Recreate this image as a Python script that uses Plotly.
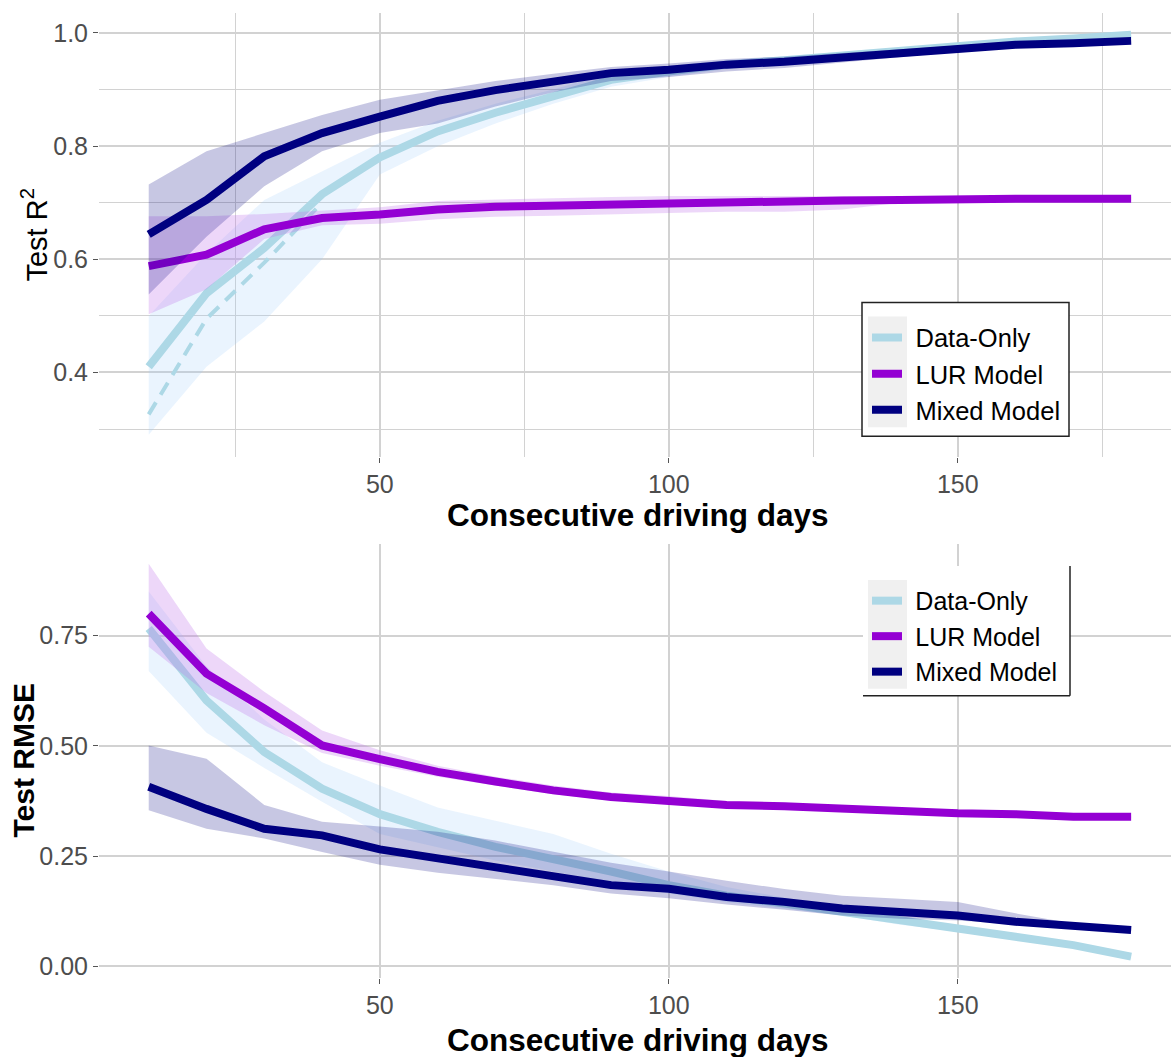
import plotly.graph_objects as go

W, H = 1171, 1057

days = [10, 20, 30, 40, 50, 60, 70, 80, 90, 100, 110, 120, 130, 140, 150, 160, 170, 180]
series_names = ["Data-Only", "LUR Model", "Mixed Model"]

# ---- Test R^2 (top panel) ----
r2_data = [0.41, 0.54, 0.62, 0.715, 0.78, 0.826, 0.859, 0.888, 0.917, 0.932, 0.944, 0.952, 0.961, 0.969, 0.977, 0.985, 0.990, 0.997]
r2_data_lo = [0.29, 0.41, 0.49, 0.60, 0.75, 0.80, 0.84, 0.875, 0.905, 0.922, 0.936, 0.945, 0.955, 0.964, 0.972, 0.981, 0.987, 0.994]
r2_data_hi = [0.50, 0.61, 0.705, 0.755, 0.806, 0.845, 0.875, 0.90, 0.93, 0.942, 0.952, 0.959, 0.967, 0.974, 0.982, 0.989, 0.993, 1.0]
r2_data_alt_days = [10, 20, 30, 40]
r2_data_alt = [0.326, 0.495, 0.594, 0.70]

r2_lur = [0.588, 0.608, 0.653, 0.673, 0.679, 0.688, 0.693, 0.695, 0.698, 0.701, 0.702, 0.702, 0.704, 0.705, 0.707, 0.707, 0.707, 0.707]
r2_lur_lo = [0.503, 0.547, 0.636, 0.660, 0.663, 0.671, 0.675, 0.677, 0.679, 0.682, 0.684, 0.684, 0.688, 0.700, 0.703, 0.704, 0.704, 0.704]
r2_lur_hi = [0.676, 0.676, 0.680, 0.686, 0.692, 0.703, 0.706, 0.708, 0.710, 0.712, 0.712, 0.712, 0.712, 0.710, 0.710, 0.710, 0.710, 0.710]

r2_mix = [0.644, 0.705, 0.782, 0.823, 0.852, 0.880, 0.899, 0.914, 0.929, 0.935, 0.944, 0.949, 0.957, 0.965, 0.973, 0.979, 0.982, 0.986]
r2_mix_lo = [0.538, 0.640, 0.729, 0.791, 0.823, 0.840, 0.870, 0.895, 0.915, 0.922, 0.932, 0.938, 0.948, 0.958, 0.967, 0.975, 0.979, 0.983]
r2_mix_hi = [0.732, 0.791, 0.823, 0.855, 0.882, 0.899, 0.915, 0.928, 0.940, 0.946, 0.954, 0.958, 0.965, 0.972, 0.978, 0.983, 0.985, 0.989]

# ---- Test RMSE (bottom panel) ----
rmse_data = [0.766, 0.603, 0.486, 0.403, 0.345, 0.305, 0.271, 0.244, 0.215, 0.184, 0.160, 0.142, 0.123, 0.101, 0.086, 0.067, 0.048, 0.022]
rmse_data_lo = [0.67, 0.53, 0.45, 0.373, 0.30, 0.27, 0.24, 0.215, 0.19, 0.165, 0.145, 0.13, 0.115, 0.094, 0.079, 0.060, 0.041, 0.016]
rmse_data_hi = [0.85, 0.68, 0.56, 0.463, 0.41, 0.36, 0.33, 0.30, 0.255, 0.215, 0.18, 0.155, 0.131, 0.108, 0.093, 0.074, 0.055, 0.028]

rmse_lur = [0.800, 0.664, 0.585, 0.501, 0.470, 0.441, 0.419, 0.399, 0.384, 0.376, 0.366, 0.363, 0.357, 0.352, 0.347, 0.345, 0.339, 0.339]
rmse_lur_lo = [0.725, 0.620, 0.547, 0.484, 0.455, 0.430, 0.410, 0.390, 0.376, 0.368, 0.359, 0.357, 0.352, 0.348, 0.344, 0.342, 0.336, 0.336]
rmse_lur_hi = [0.913, 0.721, 0.623, 0.535, 0.490, 0.455, 0.430, 0.410, 0.394, 0.386, 0.375, 0.371, 0.363, 0.356, 0.350, 0.348, 0.342, 0.342]

rmse_mix = [0.407, 0.357, 0.312, 0.297, 0.265, 0.245, 0.223, 0.203, 0.184, 0.176, 0.157, 0.146, 0.131, 0.123, 0.115, 0.101, 0.090, 0.082]
rmse_mix_lo = [0.354, 0.312, 0.290, 0.259, 0.230, 0.212, 0.198, 0.184, 0.165, 0.154, 0.140, 0.128, 0.115, 0.108, 0.104, 0.095, 0.086, 0.079]
rmse_mix_hi = [0.501, 0.471, 0.366, 0.328, 0.317, 0.305, 0.285, 0.260, 0.235, 0.215, 0.194, 0.175, 0.160, 0.153, 0.146, 0.120, 0.097, 0.086]

top_yticks = [0.4, 0.6, 0.8, 1.0]
top_yticktext = ["0.4", "0.6", "0.8", "1.0"]
bot_yticks = [0.0, 0.25, 0.50, 0.75]
bot_yticktext = ["0.00", "0.25", "0.50", "0.75"]
xticks = [50, 100, 150]

line_colors = {"Data-Only": "#ADD8E6", "LUR Model": "#9400D3", "Mixed Model": "#000080"}
fill_colors = {"Data-Only": "rgba(150,200,250,0.20)", "LUR Model": "rgba(190,110,235,0.28)", "Mixed Model": "rgba(0,0,128,0.22)"}

FONT = "Liberation Sans, Arial, sans-serif"

fig = go.Figure()


def add_series(name, x, y, lo, hi, xa, ya, showlegend, extra=None):
    fig.add_trace(go.Scatter(
        x=x + x[::-1], y=hi + lo[::-1], fill="toself", mode="lines",
        line=dict(width=0, color=fill_colors[name]), fillcolor=fill_colors[name],
        hoverinfo="skip", showlegend=False, xaxis=xa, yaxis=ya))
    if extra is not None:
        ex, ey = extra
        fig.add_trace(go.Scatter(
            x=ex, y=ey, mode="lines", line=dict(color=line_colors[name], width=4, dash="14px,9px"),
            showlegend=False, hoverinfo="skip", xaxis=xa, yaxis=ya))
    fig.add_trace(go.Scatter(
        x=x, y=y, mode="lines", name="\u2004" + name, legendgroup=name,
        line=dict(color=line_colors[name], width=8),
        showlegend=showlegend, xaxis=xa, yaxis=ya,
        legend="legend" if xa == "x" else "legend2"))


add_series("Data-Only", days, r2_data, r2_data_lo, r2_data_hi, "x", "y", True, (r2_data_alt_days, r2_data_alt))
add_series("LUR Model", days, r2_lur, r2_lur_lo, r2_lur_hi, "x", "y", True)
add_series("Mixed Model", days, r2_mix, r2_mix_lo, r2_mix_hi, "x", "y", True)

add_series("Data-Only", days, rmse_data, rmse_data_lo, rmse_data_hi, "x2", "y2", True)
add_series("LUR Model", days, rmse_lur, rmse_lur_lo, rmse_lur_hi, "x2", "y2", True)
add_series("Mixed Model", days, rmse_mix, rmse_mix_lo, rmse_mix_hi, "x2", "y2", True)


def px(xp):
    return xp / W


def py(yp):
    return 1 - yp / H


GRID = "#D2D2D2"
TICKC = "#4D4D4D"

common_x = dict(range=[1.4, 186.9], tickvals=xticks, ticktext=[str(v) for v in xticks],
                showgrid=True, gridcolor=GRID, gridwidth=1.5, zeroline=False, showline=False,
                ticks="outside", ticklen=5, tickcolor="#555555", tickwidth=1.2,
                tickfont=dict(family=FONT, size=25, color=TICKC), fixedrange=True)

fig.update_layout(
    width=W, height=H,
    margin=dict(l=0, r=0, t=0, b=0),
    paper_bgcolor="white", plot_bgcolor="white",
    xaxis=dict(domain=[px(99), 1.0], anchor="y",
               minor=dict(dtick=25, tick0=0, showgrid=True, gridcolor=GRID, gridwidth=1.2, ticks=""),
               **common_x),
    yaxis=dict(domain=[py(458), py(13)], anchor="x", range=[0.2504, 1.0353],
               tickvals=top_yticks, ticktext=top_yticktext,
               showgrid=True, gridcolor=GRID, gridwidth=1.5, zeroline=False, showline=False,
               minor=dict(dtick=0.1, tick0=0, showgrid=True, gridcolor=GRID, gridwidth=1.2, ticks=""),
               ticks="outside", ticklen=5, tickcolor="#555555", tickwidth=1.2,
               tickfont=dict(family=FONT, size=25, color=TICKC)),
    xaxis2=dict(domain=[px(99), 1.0], anchor="y2", **common_x),
    yaxis2=dict(domain=[py(980), py(545)], anchor="x2", range=[-0.027, 0.958],
                tickvals=bot_yticks, ticktext=bot_yticktext,
                showgrid=True, gridcolor=GRID, gridwidth=1.5, zeroline=False, showline=False,
                ticks="outside", ticklen=5, tickcolor="#555555", tickwidth=1.2,
                tickfont=dict(family=FONT, size=25, color=TICKC)),
    legend=dict(x=px(867), y=py(315), xanchor="left", yanchor="top",
                bgcolor="rgba(0,0,0,0)", borderwidth=0,
                font=dict(family=FONT, size=25.5, color="black"), tracegroupgap=0),
    legend2=dict(x=px(867), y=py(579), xanchor="left", yanchor="top",
                 bgcolor="rgba(0,0,0,0)", borderwidth=0,
                 font=dict(family=FONT, size=25, color="black"), tracegroupgap=0),
    showlegend=True,
)

shapes = [
    # top legend box
    dict(type="rect", xref="paper", yref="paper", x0=px(862), x1=px(1069), y0=py(437), y1=py(303),
         fillcolor="white", line=dict(color="#222222", width=1.5), layer="above"),
    dict(type="rect", xref="paper", yref="paper", x0=px(868), x1=px(907), y0=py(428), y1=py(317),
         fillcolor="#F0F0F0", line=dict(width=0), layer="above"),
    # bottom legend box (only right and bottom borders visible)
    dict(type="rect", xref="paper", yref="paper", x0=px(863), x1=px(1070), y0=py(697), y1=py(567),
         fillcolor="white", line=dict(width=0), layer="above"),
    dict(type="rect", xref="paper", yref="paper", x0=px(868), x1=px(907), y0=py(690), y1=py(581),
         fillcolor="#F0F0F0", line=dict(width=0), layer="above"),
    dict(type="line", xref="paper", yref="paper", x0=px(1070), x1=px(1070), y0=py(697), y1=py(567),
         line=dict(color="#222222", width=1.5), layer="above"),
    dict(type="line", xref="paper", yref="paper", x0=px(863), x1=px(1070), y0=py(697), y1=py(697),
         line=dict(color="#222222", width=1.5), layer="above"),
]
fig.update_layout(shapes=shapes)

annotations = [
    dict(text="<b>Consecutive driving days</b>", x=px(638), y=py(516), xref="paper", yref="paper",
         showarrow=False, xanchor="center", yanchor="middle",
         font=dict(family=FONT, size=31.5, color="black")),
    dict(text="<b>Consecutive driving days</b>", x=px(638), y=py(1042), xref="paper", yref="paper",
         showarrow=False, xanchor="center", yanchor="middle",
         font=dict(family=FONT, size=31.5, color="black")),
    dict(text="Test R<sup>2</sup>", x=px(34), y=py(236), xref="paper", yref="paper",
         showarrow=False, xanchor="center", yanchor="middle", textangle=-90,
         font=dict(family=FONT, size=29, color="black")),
    dict(text="<b>Test RMSE</b>", x=px(24), y=py(762), xref="paper", yref="paper",
         showarrow=False, xanchor="center", yanchor="middle", textangle=-90,
         font=dict(family=FONT, size=30, color="black")),
]
fig.update_layout(annotations=annotations)

fig.write_html("out.html", config={"displayModeBar": False},
               post_script="document.body.style.margin='0';document.body.style.overflow='hidden';")
